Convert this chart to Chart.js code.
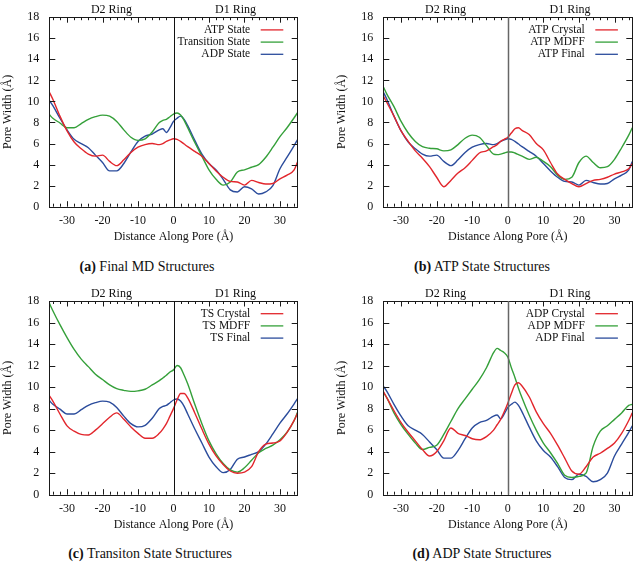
<!DOCTYPE html>
<html>
<head>
<meta charset="utf-8">
<script src="https://cdn.jsdelivr.net/npm/chart.js@4.4.1/dist/chart.umd.min.js"></script>
<style>
  body{margin:0;background:#fff;width:633px;height:563px;position:relative;overflow:hidden;font-family:"Liberation Serif",serif;}
  .panel{position:absolute;}
  .cap{position:absolute;font-size:14px;color:#111;white-space:nowrap;transform:translate(-50%,-50%);}
</style>
</head>
<body>
<div class="panel" style="left:0;top:0;width:316px;height:248px"><canvas id="chartA"></canvas></div>
<div class="panel" style="left:320px;top:0;width:313px;height:248px"><canvas id="chartB"></canvas></div>
<div class="panel" style="left:0;top:280px;width:316px;height:256px"><canvas id="chartC"></canvas></div>
<div class="panel" style="left:320px;top:280px;width:313px;height:256px"><canvas id="chartD"></canvas></div>
<div class="cap" style="left:147px;top:267px"><b>(a)</b> Final MD Structures</div>
<div class="cap" style="left:482px;top:267px"><b>(b)</b> ATP State Structures</div>
<div class="cap" style="left:150px;top:554px"><b>(c)</b> Transiton State Structures</div>
<div class="cap" style="left:482px;top:554px"><b>(d)</b> ADP State Structures</div>
<script>
// distance along the pore (A) and pore widths (A)
const distance = [-35,-34,-32,-30,-28,-26,-24,-22,-20,-18,-16,-14,-12,-10,-8,-6,
  -4,-3,-2,-1,0,1,2,3,4,
  6,8,10,12,14,16,18,20,22,24,26,28,30,32,34,35];

const atpFinal = [10.9,10.2,8.6,7.2,6.15,5.5,5.0,4.8,4.9,4.3,3.9,4.45,5.15,5.65,5.9,6.0,
  5.9,6.0,6.2,6.35,6.45,6.4,6.2,5.95,5.7,
  5.25,4.8,4.1,3.4,2.8,2.4,2.35,2.05,2.5,2.3,2.15,2.2,2.65,3.0,3.5,4.3];
const tsFinal = [8.75,8.4,7.95,7.5,7.5,7.9,8.3,8.55,8.7,8.6,8.1,7.3,6.6,6.3,6.45,7.1,
  8.0,8.2,8.3,8.55,8.8,8.9,8.7,8.2,7.5,
  6.1,4.8,3.5,2.6,2.05,2.35,3.3,3.5,3.75,4.0,4.7,5.65,6.65,7.5,8.45,8.95];
const adpFinal = [10.1,9.6,8.4,7.3,6.4,6.0,5.6,4.9,4.2,3.4,3.4,4.1,5.2,6.2,6.7,6.9,
  7.3,7.4,7.05,7.5,8.1,8.4,8.6,8.3,7.7,
  6.3,5.0,4.1,3.5,2.6,1.6,1.4,1.9,1.7,1.2,1.4,2.0,3.6,4.7,5.8,6.4];
const atpCrystal = [10.5,9.9,8.6,7.2,6.2,5.3,4.6,3.8,2.8,1.9,2.5,3.2,3.7,4.4,5.1,5.3,
  5.7,5.9,6.2,6.4,6.6,7.0,7.4,7.5,7.25,
  6.85,6.0,5.4,4.2,3.1,2.6,2.2,1.9,2.2,2.5,2.6,2.8,3.1,3.3,3.6,4.1];
const atpMdff = [11.4,10.7,9.5,8.1,7.0,6.2,5.7,5.55,5.5,5.3,5.4,5.9,6.5,6.8,6.6,5.8,
  5.0,4.95,5.0,5.1,5.2,5.2,5.1,4.95,4.8,
  4.5,4.7,4.3,3.8,3.0,2.6,2.8,4.2,4.8,4.2,3.7,3.8,4.5,5.6,6.8,7.5];
const tsCrystal = [9.2,8.7,7.5,6.4,5.9,5.6,5.55,6.0,6.6,7.2,7.6,7.0,6.3,5.7,5.25,5.25,
  5.7,6.1,6.6,7.3,8.0,8.8,9.4,9.4,9.0,
  7.6,6.1,4.7,3.6,2.8,2.2,2.0,2.1,2.6,4.0,4.7,4.8,5.0,5.8,6.9,7.6];
const tsMdff = [17.8,17.1,15.8,14.6,13.5,12.6,11.9,11.2,10.7,10.2,9.85,9.7,9.6,9.65,9.8,10.2,
  10.6,10.85,11.1,11.4,11.6,12.0,11.8,11.1,10.3,
  8.4,6.6,5.0,3.8,2.9,2.3,2.1,2.5,3.2,3.9,4.3,4.6,5.1,5.8,6.9,7.7];
const adpCrystal = [9.6,9.0,7.8,6.7,5.8,5.0,4.2,3.6,4.0,5.0,6.2,5.7,5.5,5.2,5.1,5.4,
  6.0,6.5,7.0,7.7,8.5,9.4,10.2,10.4,10.1,
  9.1,7.7,6.6,5.7,4.6,3.4,2.2,1.9,2.6,3.5,3.85,4.3,4.8,5.7,6.9,7.6];
const adpMdff = [9.5,9.0,7.6,6.5,5.6,4.8,4.2,4.4,4.6,5.6,6.8,8.0,8.9,9.8,10.7,11.8,
  13.2,13.6,13.4,13.2,12.8,11.8,10.9,9.9,9.0,
  7.4,6.0,4.8,3.9,2.9,1.8,1.6,1.7,2.0,4.5,5.9,6.4,7.0,7.6,8.3,8.4];

const yTicks = [0,2,4,6,8,10,12,14,16,18];
const ringLabels = ['D2 Ring','D1 Ring'];

const RED = '#e2262c', GREEN = '#35a03a', BLUE = '#2b4c9c';
const FONT = '"Liberation Serif", "Times New Roman", serif';

function toPoints(arr){
  return distance.map((x,i) => ({x:x, y:arr[i]}));
}

// frame, inward ticks, zero line
const framePlugin = {
  id: 'frame',
  afterDatasetsDraw(chart){
    const {ctx, chartArea:a} = chart;
    const x = chart.scales.x, y = chart.scales.y;
    ctx.save();
    ctx.strokeStyle = '#1a1a1a';
    ctx.lineWidth = 1;
    ctx.strokeRect(Math.round(a.left)+0.5, Math.round(a.top)+0.5, Math.round(a.right-a.left), Math.round(a.bottom-a.top));
    ctx.beginPath();
    for(let v=-34; v<=34; v+=2){
      const px = Math.round(x.getPixelForValue(v))+0.5;
      const len = v%10===0 ? 5.5 : 3;
      ctx.moveTo(px, a.bottom); ctx.lineTo(px, a.bottom-len);
      ctx.moveTo(px, a.top); ctx.lineTo(px, a.top+len);
    }
    yTicks.forEach(v => {
      if(v===0 || v===18) return;
      const py = Math.round(y.getPixelForValue(v))+0.5;
      ctx.moveTo(a.left, py); ctx.lineTo(a.left+6, py);
      ctx.moveTo(a.right, py); ctx.lineTo(a.right-6, py);
    });
    ctx.stroke();
    const zx = Math.round(x.getPixelForValue(0))+0.5;
    ctx.strokeStyle = chart.options.zeroColor || '#1a1a1a';
    ctx.lineWidth = chart.options.zeroWidth || 1;
    ctx.beginPath(); ctx.moveTo(zx, a.top); ctx.lineTo(zx, a.bottom); ctx.stroke();
    ctx.restore();
  }
};

// legend: text right aligned, sample line on the right
const keyPlugin = {
  id: 'key',
  afterDatasetsDraw(chart){
    const {ctx, chartArea:a} = chart;
    ctx.save();
    ctx.font = '11.5px ' + FONT;
    ctx.textAlign = 'right';
    ctx.textBaseline = 'middle';
    chart.data.datasets.forEach((ds,i) => {
      const yy = a.top + 12.7 + i*12.2;
      const x1 = a.right - 37, x2 = a.right - 14.4;
      ctx.fillStyle = '#111';
      ctx.fillText(ds.label, a.right - 47.5, yy);
      ctx.strokeStyle = ds.borderColor;
      ctx.lineWidth = 1.3;
      ctx.beginPath(); ctx.moveTo(x1, yy); ctx.lineTo(x2, yy); ctx.stroke();
    });
    ctx.restore();
  }
};

function makeChart(id, series, pad, zeroColor, zeroWidth){
  const colors = [RED, GREEN, BLUE];
  return new Chart(document.getElementById(id), {
    type: 'line',
    data: {
      datasets: series.map((s,i) => ({
        label: s[0],
        data: toPoints(s[1]),
        borderColor: colors[i],
        borderWidth: 1.4,
        pointRadius: 0,
        fill: false,
        cubicInterpolationMode: 'monotone'
      }))
    },
    options: {
      responsive: true,
      maintainAspectRatio: false,
      animation: false,
      zeroColor: zeroColor,
      zeroWidth: zeroWidth,
      layout: {padding: pad},
      plugins: {legend: {display: false}, tooltip: {enabled: false}},
      scales: {
        x: {
          type: 'linear', position: 'bottom', min: -35, max: 35,
          grid: {display: false, drawTicks: false},
          border: {display: false},
          afterBuildTicks: s => { s.ticks = [-30,-20,-10,0,10,20,30].map(v => ({value: v})); },
          afterFit: s => { s.height = 41.3; },
          ticks: {autoSkip: false, maxRotation: 0, padding: 7, color: '#111', font: {family: FONT, size: 12}},
          title: {display: true, text: 'Distance Along Pore (Å)', color: '#111', padding: {top: 0, bottom: 4}, font: {family: FONT, size: 12}}
        },
        x2: {
          type: 'linear', position: 'top', min: -35, max: 35,
          grid: {display: false, drawTicks: false},
          border: {display: false},
          afterBuildTicks: s => { s.ticks = [{value: -17.5}, {value: 17.5}]; },
          afterFit: s => { s.height = 12.3; },
          ticks: {autoSkip: false, maxRotation: 0, padding: 0, color: '#111', font: {family: FONT, size: 12},
            callback: v => v < 0 ? ringLabels[0] : ringLabels[1]}
        },
        y: {
          type: 'linear', min: 0, max: 18,
          grid: {display: false, drawTicks: false},
          border: {display: false},
          afterBuildTicks: s => { s.ticks = yTicks.map(v => ({value: v})); },
          afterFit: s => { s.width = 49.3; },
          ticks: {padding: 10, color: '#111', font: {family: FONT, size: 12}},
          title: {display: true, text: 'Pore Width (Å)', color: '#111', padding: {top: 1, bottom: 0}, font: {family: FONT, size: 12}}
        }
      }
    },
    plugins: [framePlugin, keyPlugin]
  });
}

makeChart('chartA', [['ATP State', atpFinal], ['Transition State', tsFinal], ['ADP State', adpFinal]],
  {left: 0, top: 0, right: 18.3, bottom: 0}, '#111', 1);
makeChart('chartB', [['ATP Crystal', atpCrystal], ['ATP MDFF', atpMdff], ['ATP Final', atpFinal]],
  {left: 14, top: 0, right: 0.7, bottom: 0}, '#666', 1.5);
makeChart('chartC', [['TS Crystal', tsCrystal], ['TS MDFF', tsMdff], ['TS Final', tsFinal]],
  {left: 0, top: 8.7, right: 18.3, bottom: 0}, '#111', 1);
makeChart('chartD', [['ADP Crystal', adpCrystal], ['ADP MDFF', adpMdff], ['ADP Final', adpFinal]],
  {left: 14, top: 8.7, right: 0.7, bottom: 0}, '#666', 1.5);
</script>
</body>
</html>
